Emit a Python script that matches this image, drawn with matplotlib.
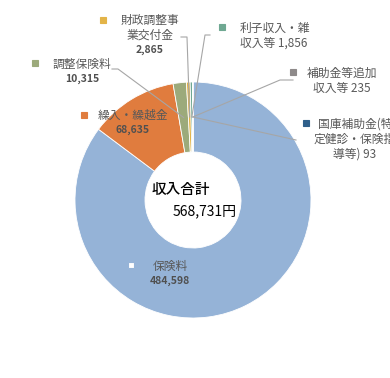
import numpy as np
import matplotlib
matplotlib.use("Agg")
from matplotlib import pyplot as plt

plt.rcParams['font.family'] = ['Noto Sans CJK JP', 'DejaVu Sans']

# data (clockwise from 12 o'clock)
names = ["保険料", "繰入・繰越金", "調整保険料", "財政調整事業交付金",
         "利子収入・雑収入等", "補助金等追加収入等", "国庫補助金(特定健診・保険指導等)"]
values = [484598, 68635, 10315, 2865, 1856, 235, 93]
label_lines = [["保険料", "484,598"],
               ["繰入・繰越金", "68,635"],
               ["調整保険料", "10,315"],
               ["財政調整事", "業交付金", "2,865"],
               ["利子収入・雑", "収入等 1,856"],
               ["補助金等追加", "収入等 235"],
               ["国庫補助金(特", "定健診・保険指", "導等) 93"]]
total_title = "収入合計"
total_label = "568,731円"
colors = ["#95b3d7", "#e07c3e", "#9caa7b", "#e3b448", "#6fa892", "#8e8a8a", "#2f5f8a"]

W, H = 390, 378
cx, cy = 193, 200
r_out, r_in = 118, 48

fig = plt.figure(figsize=(3.9, 3.78), dpi=100)
ax = fig.add_axes([0, 0, 1, 1])

def py(y):
    return H - y

wedges, _ = ax.pie(values, colors=colors, startangle=90, counterclock=False,
                   center=(cx, py(cy)), radius=r_out,
                   wedgeprops=dict(width=r_out - r_in, edgecolor="white", linewidth=0.6))
ax.set_xlim(0, W)
ax.set_ylim(0, H)
ax.set_aspect("equal")
ax.axis("off")

# label placement: marker pos, text x, first line y, elbow points of leader
layout = [
    dict(sq=(131, 265), tx=170, ty=266, ha="center", lead=None),
    dict(sq=(84, 115), tx=133, ty=115, ha="center", lead=None),
    dict(sq=(35, 63), tx=82, ty=64, ha="center", lead=[(112, 69), (118, 69)]),
    dict(sq=(103, 20), tx=150, ty=20, ha="center", lead=[(181, 37), (187, 37)]),
    dict(sq=(222, 27), tx=240, ty=28, ha="left", lead=[(210, 35), (205, 35)]),
    dict(sq=(293, 72), tx=342, ty=73, ha="center", lead=[(293, 80), (280, 80)]),
    dict(sq=(306, 123), tx=355, ty=124, ha="center", lead=[(296, 140)]),
]

cum = 0
tot = sum(values)
for i, (w, lay) in enumerate(zip(wedges, layout)):
    mid = 90 - 360 * (cum + values[i] / 2) / tot
    cum += values[i]
    ax.plot(lay["sq"][0], py(lay["sq"][1]), marker="s", ms=4,
            color=colors[i] if i else "white",
            markeredgecolor=colors[i] if i else "#95b3d7", mew=0.8)
    lines = label_lines[i]
    for k, t in enumerate(lines):
        is_num = k == len(lines) - 1 and t[0].isdigit()
        ax.text(lay["tx"], py(lay["ty"] + 15 * k), t, ha=lay["ha"], va="center",
                fontsize=7.5 if is_num else 8.5,
                color="#505050" if is_num else "#595959",
                fontweight="bold" if is_num else "normal")
    if lay["lead"]:
        rm = (r_out + r_in) / 2
        ex = cx + rm * np.cos(np.radians(mid))
        ey = py(cy) + rm * np.sin(np.radians(mid))
        pts = [(x, py(y)) for x, y in lay["lead"]] + [(ex, ey)]
        ax.plot([p[0] for p in pts], [p[1] for p in pts], color="#a6a6a6", lw=0.8)

ax.text(181, py(190), total_title, ha="center", va="center", fontsize=10.5,
        color="black", fontweight="medium")
ax.text(205, py(211), total_label, ha="center", va="center", fontsize=10,
        color="black")

fig.savefig("out.png", dpi=100)
